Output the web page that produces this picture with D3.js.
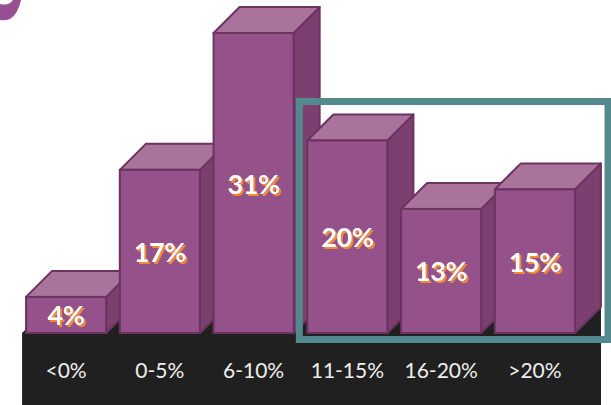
<!DOCTYPE html>
<html>
<head>
<meta charset="utf-8">
<script src="https://cdn.jsdelivr.net/npm/d3@7"></script>
<style>
  html, body { margin: 0; padding: 0; background: #ffffff; }
  svg { display: block; }
</style>
</head>
<body>
<svg id="chart" width="611" height="405"></svg>
<script>
// Return bands and the share of each one
const categories = ["<0%", "0-5%", "6-10%", "11-15%", "16-20%", ">20%"];
const shares = [4, 17, 31, 20, 13, 15];
const valueLabels = ["4%", "17%", "31%", "20%", "13%", "15%"];
// Bands grouped together by the teal frame
const highlighted = ["11-15%", "16-20%", ">20%"];

const W = 611, H = 405;
const baseY = 333;       // front bottom edge of the bars
const depth = 26;        // 3D extrusion offset
const svg = d3.select("#chart");

const colors = {
  front: "#955189",
  top: "#a9739c",
  side: "#7b406f",
  edge: "#6c3361",
  floor: "#202020",
  frame: "#528a8e",
  shadow: "#f28a33"
};

// orange drop shadow for the value labels
const defs = svg.append("defs");
const f = defs.append("filter").attr("id", "orangeShadow")
  .attr("x", "-20%").attr("y", "-20%").attr("width", "140%").attr("height", "140%");
f.append("feFlood").attr("flood-color", colors.shadow).attr("result", "c");
f.append("feComposite").attr("in", "c").attr("in2", "SourceAlpha").attr("operator", "in").attr("result", "s");
f.append("feOffset").attr("in", "s").attr("dx", 1.6).attr("dy", 1.6).attr("result", "so");
const merge = f.append("feMerge");
merge.append("feMergeNode").attr("in", "so");
merge.append("feMergeNode").attr("in", "SourceGraphic");

const x = d3.scaleBand()
  .domain(categories)
  .range([19.5, 581.5])
  .paddingInner(0.146)
  .paddingOuter(0.07);

const y = d3.scaleLinear()
  .domain([0, 31])
  .range([baseY + 3, 33]);

// decorative corner shape
svg.append("path")
  .attr("d", "M0,4 Q9,6 13,0 L21,0 Q18,14 10,19 Q5,21 0,20 Z")
  .attr("fill", "#9a4f94");

// dark floor under the bars
const x0 = x(categories[0]) - 4;
svg.append("path")
  .attr("d", d3.line()([
    [x0, baseY], [x0 + depth, baseY - depth], [601, baseY - depth],
    [601, H], [x0, H]
  ]) + "Z")
  .attr("fill", colors.floor);

// 3D bars
const bars = svg.append("g");
categories.forEach((c, i) => {
  const v = shares[i];
  const xl = x(c), xr = x(c) + x.bandwidth();
  const yt = y(v), yb = baseY;
  const g = bars.append("g");
  const line = d3.line();
  g.append("path")
    .attr("d", line([[xr, yt], [xr + depth, yt - depth], [xr + depth, yb - depth], [xr, yb]]) + "Z")
    .attr("fill", colors.side).attr("stroke", colors.edge).attr("stroke-width", 2)
    .attr("stroke-linejoin", "round");
  g.append("path")
    .attr("d", line([[xl, yt], [xl + depth, yt - depth], [xr + depth, yt - depth], [xr, yt]]) + "Z")
    .attr("fill", colors.top).attr("stroke", colors.edge).attr("stroke-width", 2)
    .attr("stroke-linejoin", "round");
  g.append("rect")
    .attr("x", xl).attr("y", yt)
    .attr("width", xr - xl).attr("height", yb - yt)
    .attr("fill", colors.front).attr("stroke", colors.edge).attr("stroke-width", 2);

  g.append("text")
    .attr("x", (xl + xr) / 2).attr("y", (yt + yb) / 2)
    .attr("text-anchor", "middle")
    .attr("dominant-baseline", "central")
    .attr("font-family", "Lato, 'Open Sans', sans-serif")
    .attr("font-weight", 700)
    .attr("font-size", 27)
    .attr("letter-spacing", -0.4)
    .attr("fill", "#ffffff")
    .attr("filter", "url(#orangeShadow)")
    .text(valueLabels[i]);
});

// category axis on the floor
const axis = svg.append("g")
  .attr("transform", `translate(0,${baseY})`)
  .call(d3.axisBottom(x).tickSize(0).tickPadding(30));
axis.select(".domain").remove();
axis.selectAll("text")
  .attr("font-family", "Lato, 'Open Sans', sans-serif")
  .attr("font-size", 21)
  .attr("fill", "#efefef");

// teal frame around the upper bands
const hx0 = x(highlighted[0]) - 8;
svg.append("rect")
  .attr("x", hx0)
  .attr("y", 101.5)
  .attr("width", 608 - hx0)
  .attr("height", 339.5 - 101.5)
  .attr("fill", "none")
  .attr("stroke", colors.frame)
  .attr("stroke-width", 7);
</script>
</body>
</html>
